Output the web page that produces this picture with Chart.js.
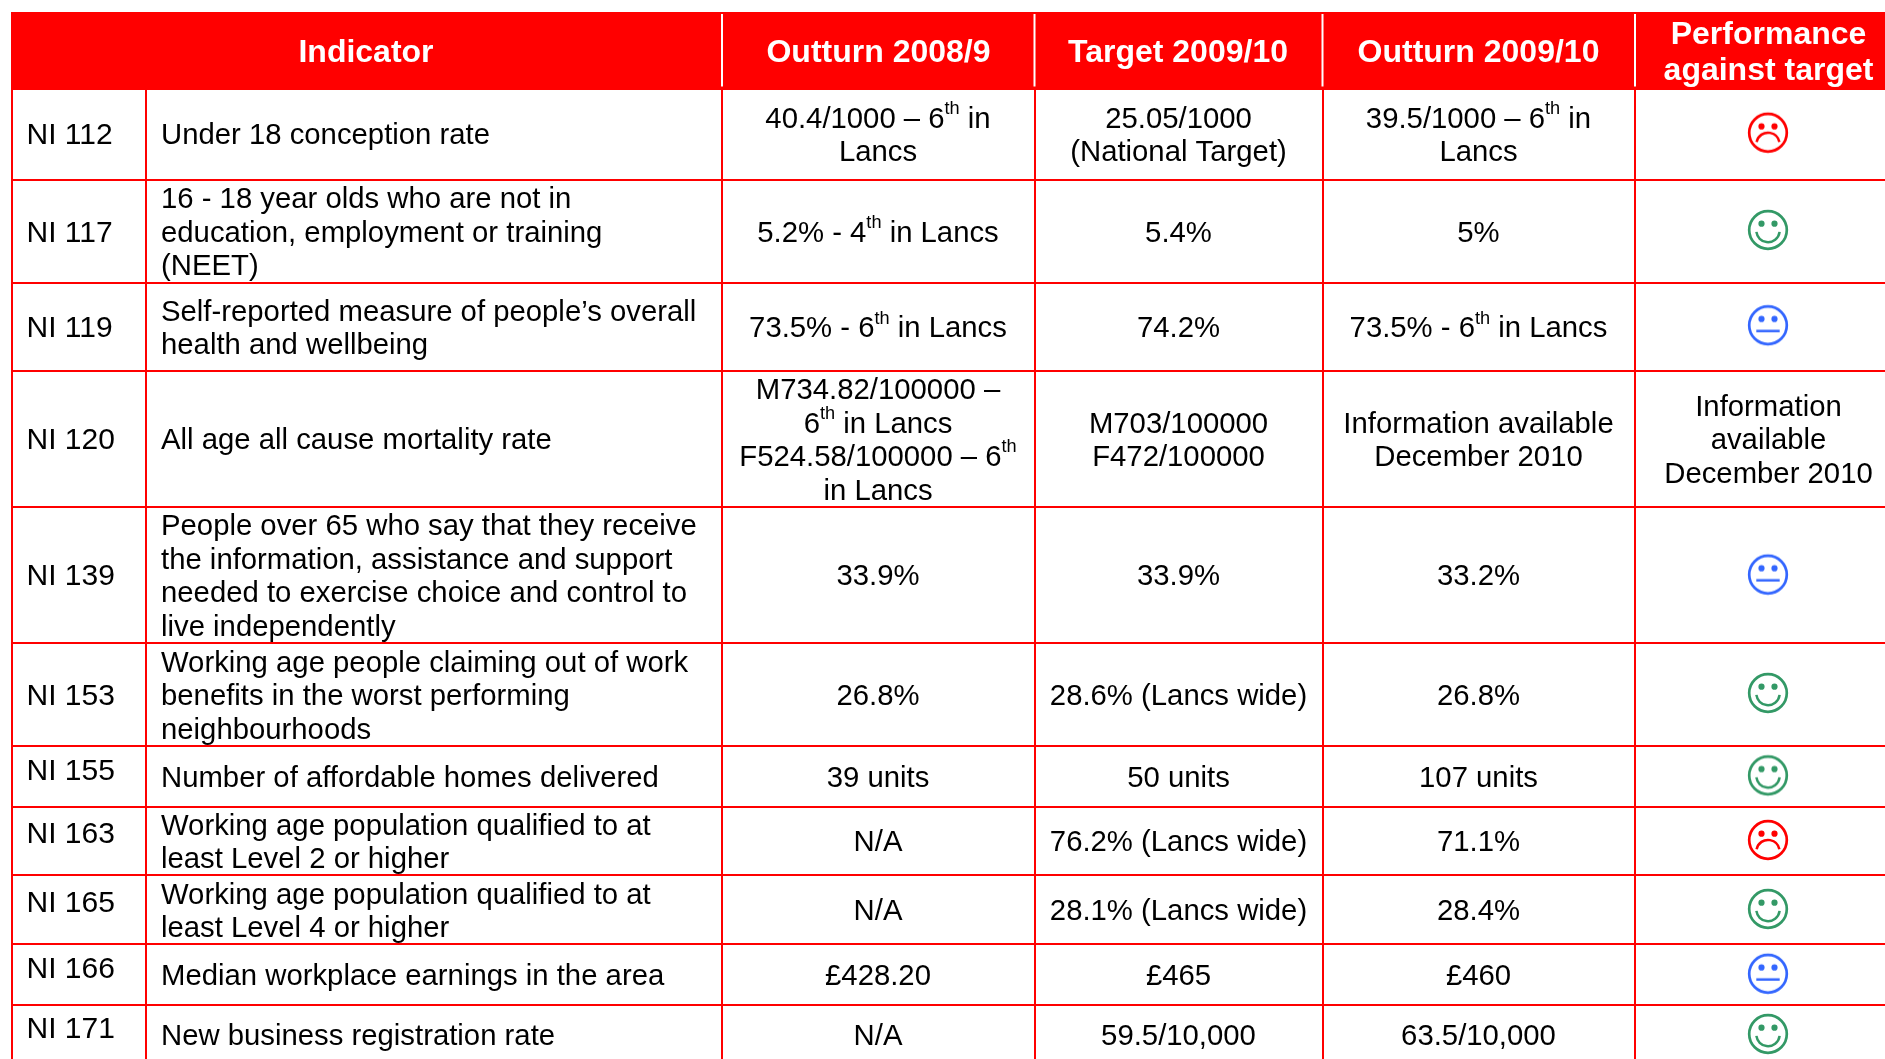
<!DOCTYPE html>
<html>
<head>
<meta charset="utf-8">
<title>Performance indicators</title>
<script src="https://cdn.jsdelivr.net/npm/chart.js@4"></script>
<style>
  html, body { margin: 0; padding: 0; background: #fff; overflow: hidden; }
</style>
</head>
<body>
<canvas id="myChart" width="1885" height="1059"></canvas>
<script>
// table content, ^th^ marks a superscript
const headers = [
  ["Indicator"],
  ["Outturn 2008/9"],
  ["Target 2009/10"],
  ["Outturn 2009/10"],
  ["Performance", "against target"],
];
const codes = ["NI 112", "NI 117", "NI 119", "NI 120", "NI 139", "NI 153", "NI 155", "NI 163", "NI 165", "NI 166", "NI 171"];
const indicators = [
  ["Under 18 conception rate"],
  ["16 - 18 year olds who are not in", "education, employment or training", "(NEET)"],
  ["Self-reported measure of people’s overall", "health and wellbeing"],
  ["All age all cause mortality rate"],
  ["People over 65 who say that they receive", "the information, assistance and support", "needed to exercise choice and control to", "live independently"],
  ["Working age people claiming out of work", "benefits in the worst performing", "neighbourhoods"],
  ["Number of affordable homes delivered"],
  ["Working age population qualified to at", "least Level 2 or higher"],
  ["Working age population qualified to at", "least Level 4 or higher"],
  ["Median workplace earnings in the area"],
  ["New business registration rate"],
];
const outturn0809 = [
  ["40.4/1000 – 6^th^ in", "Lancs"],
  ["5.2% - 4^th^ in Lancs"],
  ["73.5% - 6^th^ in Lancs"],
  ["M734.82/100000 –", "6^th^ in Lancs", "F524.58/100000 – 6^th^", "in Lancs"],
  ["33.9%"],
  ["26.8%"],
  ["39 units"],
  ["N/A"],
  ["N/A"],
  ["£428.20"],
  ["N/A"],
];
const target0910 = [
  ["25.05/1000", "(National Target)"],
  ["5.4%"],
  ["74.2%"],
  ["M703/100000", "F472/100000"],
  ["33.9%"],
  ["28.6% (Lancs wide)"],
  ["50 units"],
  ["76.2% (Lancs wide)"],
  ["28.1% (Lancs wide)"],
  ["£465"],
  ["59.5/10,000"],
];
const outturn0910 = [
  ["39.5/1000 – 6^th^ in", "Lancs"],
  ["5%"],
  ["73.5% - 6^th^ in Lancs"],
  ["Information available", "December 2010"],
  ["33.2%"],
  ["26.8%"],
  ["107 units"],
  ["71.1%"],
  ["28.4%"],
  ["£460"],
  ["63.5/10,000"],
];
const performance = ["sad", "happy", "neutral", ["Information", "available", "December 2010"], "neutral", "happy", "happy", "sad", "happy", "neutral", "happy"];

// layout, in the units of the two axes
const colEdges = [12, 145.5, 722, 1034.5, 1322.5, 1635];
const rowEdges = [88.5, 179.5, 283, 370.5, 506.5, 643, 745.5, 807, 875, 943.5, 1005];
const rowMiddles = [136.2, 233.7, 329.2, 441.2, 577.2, 697.2, 779.2, 843.2, 912.2, 977.2, 1037.2];
const codeShift = [0, 0, 0, 0, 0, 0, -7.5, -8, -8, -7.5, -7.5];
const smileyY = [132.7, 230, 325.3, null, 574.6, 693, 775.4, 840, 909, 973.8, 1034];
const headerDividers = colEdges.slice(2);
const headerTop = 12;
const headerBottom = 88.5;
const smileyX = 1768;
const lineHeight = 33.5;

const RED = "#ff0000";
const colours = { sad: RED, happy: "#339966", neutral: "#3366ff" };
const FONT = "'Liberation Sans', Arial, sans-serif";

const makeSmiley = (mood) => {
  const c = document.createElement("canvas");
  c.width = 44;
  c.height = 44;
  const g = c.getContext("2d");
  g.strokeStyle = g.fillStyle = colours[mood];
  g.lineWidth = 2.7;
  g.beginPath();
  g.arc(22, 22, 18.8, 0, Math.PI * 2);
  g.stroke();
  [15.5, 28.5].forEach((x) => {
    g.beginPath();
    g.arc(x, 15.7, 3.1, 0, Math.PI * 2);
    g.fill();
  });
  g.lineWidth = 2.5;
  g.beginPath();
  if (mood === "happy") {
    g.arc(22, 22.5, 11.7, 0.04 * Math.PI, 0.96 * Math.PI);
  } else if (mood === "sad") {
    g.arc(22, 33.5, 11.6, 1.06 * Math.PI, 1.94 * Math.PI);
  } else {
    g.moveTo(10.3, 27.7);
    g.lineTo(33.7, 27.7);
  }
  g.stroke();
  return c;
};

const moodDataset = (mood) => ({
  type: "scatter",
  data: performance
    .map((p, i) => (p === mood ? { x: smileyX, y: smileyY[i] } : null))
    .filter(Boolean),
  pointStyle: makeSmiley(mood),
  pointRadius: 20,
  showLine: false,
});

// split a line on the ^ marks, odd pieces are superscript
const drawLine = (ctx, line, x, y, align, size, weight) => {
  const parts = line.split("^");
  const normal = `${weight} ${size}px ${FONT}`;
  const small = `${weight} ${size * 0.62}px ${FONT}`;
  let width = 0;
  parts.forEach((p, i) => {
    ctx.font = i % 2 ? small : normal;
    width += ctx.measureText(p).width;
  });
  let cx = align === "center" ? x - width / 2 : x;
  parts.forEach((p, i) => {
    ctx.font = i % 2 ? small : normal;
    ctx.fillText(p, cx, i % 2 ? y - size * 0.36 : y);
    cx += ctx.measureText(p).width;
  });
};

const drawCell = (chart, lines, xVal, yVal, align, size, weight, colour, spacing) => {
  const ctx = chart.ctx;
  const px = chart.scales.x.getPixelForValue(xVal);
  const py = chart.scales.y.getPixelForValue(yVal);
  ctx.fillStyle = colour;
  lines.forEach((line, i) => {
    const y = py + (i - (lines.length - 1) / 2) * spacing;
    drawLine(ctx, line, px, y, align, size, weight);
  });
};

const tableText = {
  id: "tableText",
  afterDatasetsDraw(chart) {
    const ctx = chart.ctx;
    const body = 29.3;
    const head = 32;
    ctx.save();
    ctx.textBaseline = "middle";
    ctx.textAlign = "left";
    const headerX = [366, 878.5, 1178, 1478.5, 1768.5];
    const headerY = 53.5;
    headers.forEach((h, i) => {
      drawCell(chart, h, headerX[i], headerY, "center", head, "bold", "#ffffff", 36);
    });
    rowMiddles.forEach((mid, r) => {
      drawCell(chart, [codes[r]], 26.5, mid + codeShift[r], "left", 30, "normal", "#000000", lineHeight);
      drawCell(chart, indicators[r], 161, mid, "left", body, "normal", "#000000", lineHeight);
      drawCell(chart, outturn0809[r], 878, mid, "center", body, "normal", "#000000", lineHeight);
      drawCell(chart, target0910[r], 1178.5, mid, "center", body, "normal", "#000000", lineHeight);
      drawCell(chart, outturn0910[r], 1478.5, mid, "center", body, "normal", "#000000", lineHeight);
      if (Array.isArray(performance[r])) {
        drawCell(chart, performance[r], 1768.5, mid, "center", body, "normal", "#000000", lineHeight);
      }
    });
    ctx.restore();
  },
};

const ruleAxis = (edges, min, max, extra) => ({
  type: "linear",
  min,
  max,
  afterBuildTicks: (scale) => {
    scale.ticks = edges.map((value) => ({ value }));
  },
  ticks: { display: false, autoSkip: false },
  border: { display: false },
  grid: { color: RED, lineWidth: 2, drawTicks: false },
  ...extra,
});

const ctx = document.getElementById("myChart").getContext("2d");
new Chart(ctx, {
  type: "scatter",
  data: {
    datasets: [
      moodDataset("sad"),
      moodDataset("happy"),
      moodDataset("neutral"),
      ...headerDividers.map((x) => ({
        type: "line",
        data: [{ x, y: headerTop + 2 }, { x, y: headerBottom - 2 }],
        borderColor: "#ffffff",
        borderWidth: 2,
        pointRadius: 0,
      })),
      {
        type: "line",
        data: [{ x: colEdges[0] - 1, y: headerTop }, { x: 1885, y: headerTop }],
        borderWidth: 0,
        pointRadius: 0,
        backgroundColor: RED,
        fill: { value: headerBottom },
      },
    ],
  },
  options: {
    responsive: false,
    animation: false,
    events: [],
    layout: { autoPadding: false, padding: { left: colEdges[0] - 1, top: headerTop, right: 0, bottom: 0 } },
    plugins: { legend: { display: false }, tooltip: { enabled: false } },
    scales: {
      x: ruleAxis(colEdges, colEdges[0] - 1, 1885),
      y: ruleAxis(rowEdges, headerTop, 1059, { reverse: true }),
    },
  },
  plugins: [tableText],
});
</script>
</body>
</html>
